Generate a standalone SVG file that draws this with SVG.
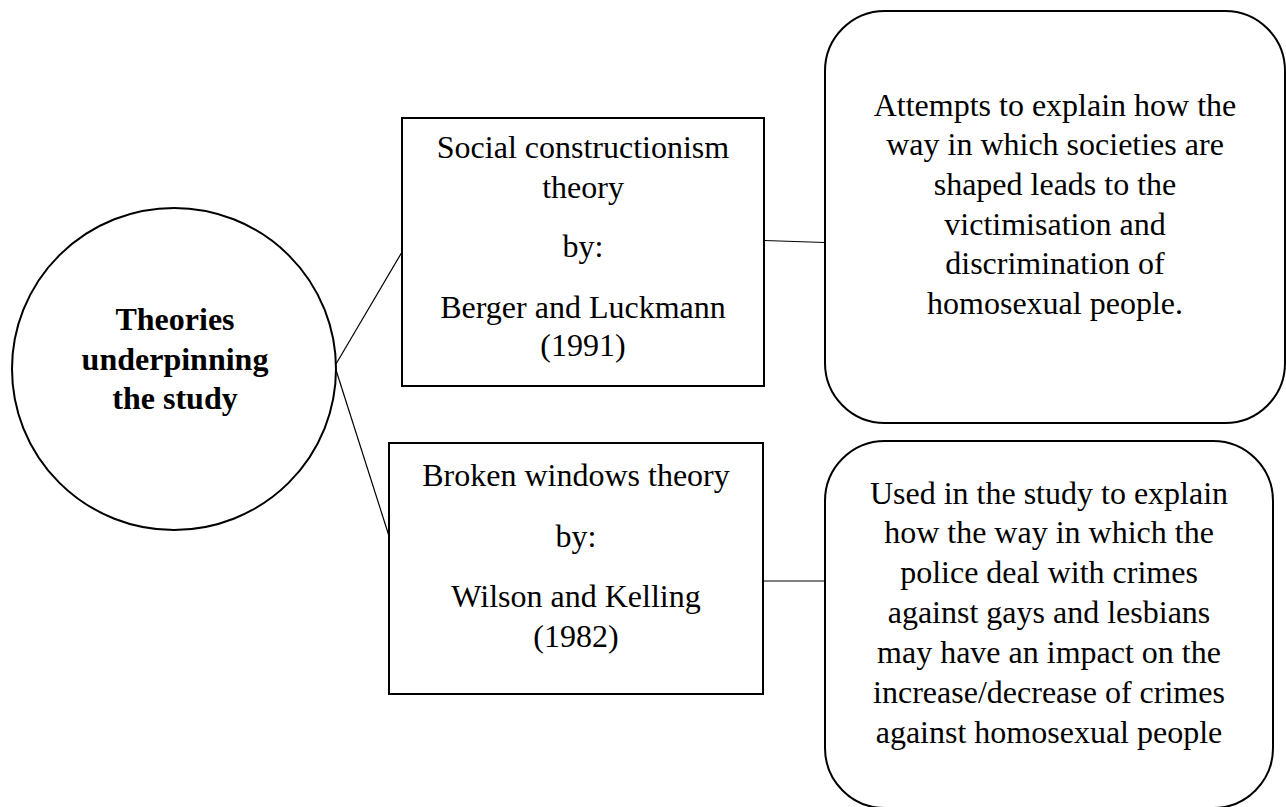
<svg xmlns="http://www.w3.org/2000/svg" width="1286" height="807" viewBox="0 0 1286 807">
<style>
.shape{fill:#fff;stroke:#000;stroke-width:2}
.conn{stroke:#000;stroke-width:1.2;fill:none}
text{font-family:"Liberation Serif","Times New Roman",serif;font-size:32px;fill:#000;text-anchor:middle}
.b{font-weight:bold}
</style>
<rect width="1286" height="807" fill="#fff"/>
<g id="connectors">
<line class="conn" x1="336" y1="364" x2="402" y2="252"/>
<line class="conn" x1="336" y1="370" x2="389" y2="536"/>
<line class="conn" x1="764" y1="240.5" x2="825" y2="242.5"/>
<line class="conn" x1="763" y1="581" x2="825" y2="581"/>
</g>
<g id="center">
<ellipse class="shape" cx="174" cy="369" rx="162" ry="161"/>
<text class="b" x="175" y="330">Theories</text>
<text class="b" x="175" y="370">underpinning</text>
<text class="b" x="175" y="409">the study</text>
</g>
<g id="social">
<rect class="shape" x="402" y="118" width="362" height="268"/>
<text x="583" y="158">Social constructionism</text>
<text x="583" y="198">theory</text>
<text x="583" y="257">by:</text>
<text x="583" y="318">Berger and Luckmann</text>
<text x="583" y="356">(1991)</text>
</g>
<g id="broken">
<rect class="shape" x="389" y="443" width="374" height="251"/>
<text x="576" y="486">Broken windows theory</text>
<text x="576" y="547">by:</text>
<text x="576" y="607">Wilson and Kelling</text>
<text x="576" y="647">(1982)</text>
</g>
<g id="social-desc">
<rect class="shape" x="825" y="11" width="460" height="412" rx="60" ry="60"/>
<text x="1055" y="116">Attempts to explain how the</text>
<text x="1055" y="155">way in which societies are</text>
<text x="1055" y="195">shaped leads to the</text>
<text x="1055" y="235">victimisation and</text>
<text x="1055" y="274">discrimination of</text>
<text x="1055" y="314">homosexual people.</text>
</g>
<g id="broken-desc">
<rect class="shape" x="825" y="441" width="448" height="367" rx="60" ry="60"/>
<text x="1049" y="504">Used in the study to explain</text>
<text x="1049" y="543">how the way in which the</text>
<text x="1049" y="583">police deal with crimes</text>
<text x="1049" y="623">against gays and lesbians</text>
<text x="1049" y="663">may have an impact on the</text>
<text x="1049" y="703">increase/decrease of crimes</text>
<text x="1049" y="743">against homosexual people</text>
</g>
</svg>
